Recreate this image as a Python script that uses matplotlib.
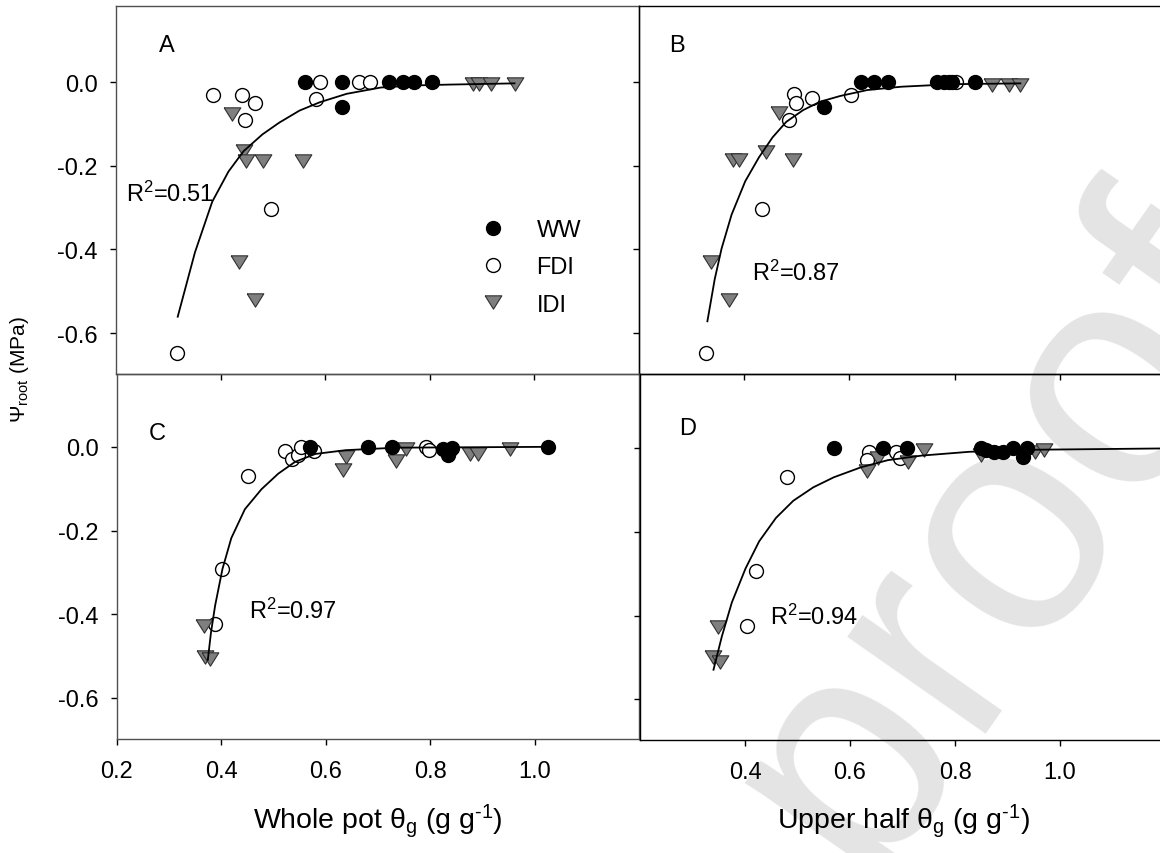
import numpy as np
import matplotlib
matplotlib.use('Agg')
import matplotlib.pyplot as plt

plt.rcParams['font.family'] = ['Liberation Sans', 'DejaVu Sans']
plt.rcParams['mathtext.fontset'] = 'custom'
plt.rcParams['mathtext.rm'] = 'Liberation Sans'
plt.rcParams['mathtext.it'] = 'Liberation Sans:italic'
plt.rcParams['mathtext.bf'] = 'Liberation Sans:bold'

W, H = 1160, 854

# ---- panel A : whole pot, first harvest
a_ww_x = [0.562, 0.632, 0.632, 0.722, 0.749, 0.769, 0.804]
a_ww_y = [0.0, 0.0, -0.060, 0.0, 0.0, 0.0, 0.0]
a_fdi_x = [0.386, 0.440, 0.466, 0.446, 0.590, 0.583, 0.664, 0.685, 0.497, 0.317]
a_fdi_y = [-0.032, -0.031, -0.050, -0.091, 0.0, -0.040, 0.0, 0.0, -0.304, -0.648]
a_idi_x = [0.422, 0.444, 0.449, 0.481, 0.557, 0.435, 0.465, 0.883, 0.894, 0.917, 0.962]
a_idi_y = [-0.076, -0.165, -0.188, -0.188, -0.188, -0.430, -0.521, -0.005, -0.005, -0.005, -0.005]
a_fit_x = [0.318, 0.351, 0.384, 0.415, 0.444, 0.480, 0.512, 0.551, 0.590, 0.641, 0.706, 0.770, 0.835, 0.962]
a_fit_y = [-0.561, -0.407, -0.286, -0.214, -0.165, -0.125, -0.097, -0.068, -0.048, -0.028, -0.013, -0.008, -0.006, -0.003]

# ---- panel B : upper half, first harvest
b_ww_x = [0.551, 0.622, 0.646, 0.673, 0.767, 0.779, 0.789, 0.795, 0.838]
b_ww_y = [-0.059, 0.0, 0.0, 0.0, 0.0, 0.0, 0.0, 0.0, 0.0]
b_fdi_x = [0.494, 0.499, 0.529, 0.485, 0.603, 0.802, 0.434, 0.328]
b_fdi_y = [-0.028, -0.051, -0.039, -0.090, -0.031, 0.0, -0.303, -0.647]
b_idi_x = [0.467, 0.442, 0.378, 0.391, 0.493, 0.336, 0.371, 0.872, 0.903, 0.924]
b_idi_y = [-0.075, -0.166, -0.187, -0.187, -0.187, -0.429, -0.520, -0.006, -0.006, -0.006]
b_fit_x = [0.330, 0.344, 0.357, 0.376, 0.402, 0.428, 0.454, 0.480, 0.512, 0.544, 0.583, 0.634, 0.699, 0.796, 0.925]
b_fit_y = [-0.572, -0.471, -0.398, -0.317, -0.237, -0.180, -0.132, -0.095, -0.067, -0.047, -0.033, -0.019, -0.011, -0.005, -0.003]

# ---- panel C : whole pot, second harvest
c_ww_x = [0.569, 0.680, 0.727, 0.825, 0.838, 0.835, 0.841, 1.025]
c_ww_y = [0.0, 0.0, 0.0, -0.006, -0.008, -0.020, -0.002, 0.0]
c_fdi_x = [0.522, 0.535, 0.547, 0.553, 0.577, 0.450, 0.792, 0.798, 0.402, 0.387]
c_fdi_y = [-0.010, -0.028, -0.020, 0.0, -0.010, -0.070, 0.0, -0.008, -0.292, -0.424]
c_idi_x = [0.638, 0.632, 0.753, 0.735, 0.876, 0.891, 0.952, 0.367, 0.369, 0.379]
c_idi_y = [-0.024, -0.055, -0.004, -0.034, -0.016, -0.016, -0.006, -0.429, -0.501, -0.508]
c_fit_x = [0.374, 0.380, 0.388, 0.402, 0.419, 0.445, 0.477, 0.509, 0.541, 0.580, 0.638, 0.735, 1.025]
c_fit_y = [-0.509, -0.444, -0.379, -0.292, -0.218, -0.149, -0.101, -0.064, -0.036, -0.017, -0.008, -0.002, 0.0]

# ---- panel D : upper half, second harvest
d_ww_x = [0.569, 0.663, 0.708, 0.850, 0.859, 0.875, 0.892, 0.911, 0.929, 0.937]
d_ww_y = [0.0, 0.0, 0.0, 0.0, -0.004, -0.008, -0.008, 0.0, -0.020, 0.0]
d_fdi_x = [0.637, 0.633, 0.688, 0.696, 0.480, 0.421, 0.403]
d_fdi_y = [-0.008, -0.027, -0.008, -0.022, -0.069, -0.293, -0.424]
d_idi_x = [0.632, 0.653, 0.711, 0.740, 0.850, 0.953, 0.970, 0.348, 0.339, 0.353]
d_idi_y = [-0.053, -0.024, -0.032, -0.004, -0.015, -0.008, -0.004, -0.428, -0.499, -0.511]
d_fit_x = [0.340, 0.356, 0.375, 0.401, 0.427, 0.459, 0.492, 0.530, 0.569, 0.621, 0.672, 0.737, 0.827, 0.956, 1.193]
d_fit_y = [-0.529, -0.449, -0.368, -0.287, -0.222, -0.166, -0.125, -0.093, -0.069, -0.045, -0.028, -0.017, -0.008, -0.003, 0.0]

panel_letters = ['A', 'B', 'C', 'D']
r2_labels = [r'R$^2$=0.51', r'R$^2$=0.87', r'R$^2$=0.97', r'R$^2$=0.94']
series_names = ['WW', 'FDI', 'IDI']
y_ticks = [0.0, -0.2, -0.4, -0.6]
y_tick_labels = ['0.0', '-0.2', '-0.4', '-0.6']
x_ticks_c = [0.2, 0.4, 0.6, 0.8, 1.0]
x_ticks_d = [0.4, 0.6, 0.8, 1.0]

TRIANGLE = [(-1, 0.8), (1, 0.8), (0, -0.8), (-1, 0.8)]


def fig_xy(x, y):
    """
    pixel position (origin top left) -> figure fraction
    """
    return x / W, 1 - y / H


def add_panel(fig, x0, y0, x1, y1, spine_color):
    """
    Adds an axes covering the pixel box [x0, x1] x [y0, y1]
    """
    ax = fig.add_axes([x0 / W, 1 - y1 / H, (x1 - x0) / W, (y1 - y0) / H])
    ax.patch.set_alpha(0)
    for s in ax.spines.values():
        s.set_color(spine_color)
        s.set_linewidth(1.0)
    ax.tick_params(direction='out', length=4, width=1, labelsize=17, colors='black')
    ax.tick_params(axis='y', pad=9)
    ax.tick_params(axis='x', pad=11)
    ax.set_yticks(y_ticks)
    ax.set_yticklabels(y_tick_labels)
    return ax


def draw_panel(ax, ww_x, ww_y, fdi_x, fdi_y, idi_x, idi_y, fit_x, fit_y):
    """
    Draws the three treatments and the fitted curve of one panel
    """
    h_fdi, = ax.plot(fdi_x, fdi_y, 'o', ms=10, mfc='white', mec='black', mew=1.0,
                     label=series_names[1], zorder=3)
    h_idi, = ax.plot(idi_x, idi_y, marker=TRIANGLE, ls='none', ms=12, mfc='#7f7f7f',
                     mec='#303030', mew=0.8, label=series_names[2], zorder=3)
    h_ww, = ax.plot(ww_x, ww_y, 'o', ms=10, mfc='black', mec='black', mew=1.0,
                    label=series_names[0], zorder=4)
    ax.plot(fit_x, fit_y, color='black', lw=1.3, zorder=5)
    return [h_ww, h_fdi, h_idi]


fig = plt.figure(figsize=(W / 100, H / 100), dpi=100)

# watermark of the journal page, sits under the panels
wx, wy = fig_xy(1290, 300)
fig.text(wx, wy, 'Journal Pre-proof', fontsize=230, color='#e4e4e4', rotation=55,
         rotation_mode='anchor', ha='right', va='baseline', zorder=-1)

ax_a = add_panel(fig, 116, 7, 639, 375, '#505050')
ax_b = add_panel(fig, 639, 7, 1165, 375, 'black')
ax_c = add_panel(fig, 117, 375, 639, 740, '#505050')
ax_d = add_panel(fig, 640, 375, 1165, 741, 'black')

handles = draw_panel(ax_a, a_ww_x, a_ww_y, a_fdi_x, a_fdi_y, a_idi_x, a_idi_y, a_fit_x, a_fit_y)
draw_panel(ax_b, b_ww_x, b_ww_y, b_fdi_x, b_fdi_y, b_idi_x, b_idi_y, b_fit_x, b_fit_y)
draw_panel(ax_c, c_ww_x, c_ww_y, c_fdi_x, c_fdi_y, c_idi_x, c_idi_y, c_fit_x, c_fit_y)
draw_panel(ax_d, d_ww_x, d_ww_y, d_fdi_x, d_fdi_y, d_idi_x, d_idi_y, d_fit_x, d_fit_y)

ax_a.set_ylim(-0.698, 0.182)
ax_b.set_ylim(-0.698, 0.182)
ax_c.set_ylim(-0.698, 0.174)
ax_d.set_ylim(-0.697, 0.178)

for ax in [ax_a, ax_b, ax_c, ax_d]:
    ax.set_xlim(0.2, 1.2)
ax_a.set_xticks(x_ticks_d)
ax_b.set_xticks(x_ticks_d)
ax_c.set_xticks(x_ticks_c)
ax_c.set_xticklabels(['%.1f' % t for t in x_ticks_c])
ax_d.set_xticks(x_ticks_d)
ax_d.set_xticklabels(['%.1f' % t for t in x_ticks_d])

ax_a.tick_params(labelbottom=False)
ax_b.tick_params(labelbottom=False, labelleft=False)
ax_d.tick_params(labelleft=False)

# panel letters and R2 values
letter_pos = [(167, 46), (677, 46), (157, 434), (688, 429)]
r2_pos = [(126, 202), (752, 281), (249, 619), (770, 625)]
for letter, (lx, ly) in zip(panel_letters, letter_pos):
    fx, fy = fig_xy(lx, ly)
    fig.text(fx, fy, letter, fontsize=17, ha='center', va='center')
for r2, (rx, ry) in zip(r2_labels, r2_pos):
    fx, fy = fig_xy(rx, ry)
    fig.text(fx, fy, r2, fontsize=17, ha='left', va='baseline')

# legend in panel A
lx, ly = fig_xy(481, 220)
ax_a.legend(handles=handles, loc='upper left', bbox_to_anchor=(lx, ly),
            bbox_transform=fig.transFigure, frameon=False, fontsize=17,
            handlelength=1.0, handletextpad=1.35, labelspacing=0.65,
            borderpad=0, borderaxespad=0)

# axis titles
fx, fy = fig_xy(378, 829)
fig.text(fx, fy, r'Whole pot $\mathrm{\theta}_{\mathrm{g}}$ (g g$^{\text{-1}}$)',
         fontsize=20.5, ha='center', va='baseline')
fx, fy = fig_xy(903, 829)
fig.text(fx, fy, r'Upper half $\mathrm{\theta}_{\mathrm{g}}$ (g g$^{\text{-1}}$)',
         fontsize=20.5, ha='center', va='baseline')
fx, fy = fig_xy(20, 370)
fig.text(fx, fy, r'$\mathrm{\Psi}_{\mathrm{root}}$ (MPa)', fontsize=15,
         ha='center', va='center', rotation=90)

plt.savefig('out.png', dpi=100)
plt.close()
